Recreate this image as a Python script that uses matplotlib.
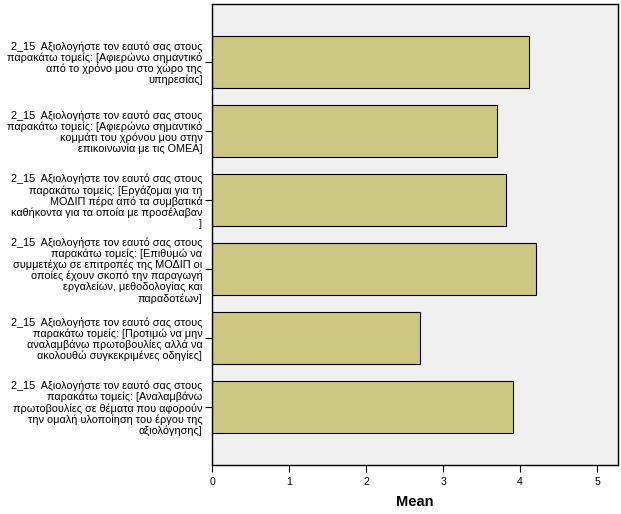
import matplotlib.pyplot as plt

# Κατηγορίες (ετικέτες άξονα y) όπως φαίνονται στο γράφημα
labels = [
    "2_15  Αξιολογήστε τον εαυτό σας στους\nπαρακάτω τομείς: [Αφιερώνω σημαντικό\nαπό το χρόνο μου στο χώρο της\nυπηρεσίας]",
    "2_15  Αξιολογήστε τον εαυτό σας στους\nπαρακάτω τομείς: [Αφιερώνω σημαντικό\nκομμάτι του χρόνου μου στην\nεπικοινωνία με τις ΟΜΕΑ]",
    "2_15  Αξιολογήστε τον εαυτό σας στους\nπαρακάτω τομείς: [Εργάζομαι για τη\nΜΟΔΙΠ πέρα από τα συμβατικά\nκαθήκοντα για τα οποία με προσέλαβαν\n]",
    "2_15  Αξιολογήστε τον εαυτό σας στους\nπαρακάτω τομείς: [Επιθυμώ να\nσυμμετέχω σε επιτροπές της ΜΟΔΙΠ οι\nοποίες έχουν σκοπό την παραγωγή\nεργαλείων, μεθοδολογίας και\nπαραδοτέων]",
    "2_15  Αξιολογήστε τον εαυτό σας στους\nπαρακάτω τομείς: [Προτιμώ να μην\nαναλαμβάνω πρωτοβουλίες αλλά να\nακολουθώ συγκεκριμένες οδηγίες]",
    "2_15  Αξιολογήστε τον εαυτό σας στους\nπαρακάτω τομείς: [Αναλαμβάνω\nπρωτοβουλίες σε θέματα που αφορούν\nτην ομαλή υλοποίηση του έργου της\nαξιολόγησης]",
]
means = [4.12, 3.70, 3.81, 4.21, 2.70, 3.91]
xticks = [0, 1, 2, 3, 4, 5]

plt.rcParams['font.family'] = ['Liberation Sans', 'DejaVu Sans']

fig = plt.figure(figsize=(6.21, 5.14), dpi=100)
ax = fig.add_axes([212 / 621, 49 / 514, 406 / 621, 461 / 514])
ax.set_facecolor('#f0f0f0')

pos = list(range(len(means)))
ax.barh(pos, means, height=0.75, color='#cdc784', edgecolor='black', linewidth=0.8)

ax.set_xlim(0, 5.27)
ax.set_ylim(len(means) - 1 + 0.84, -0.84)
ax.set_xticks(xticks)
ax.set_yticks(pos)
ax.set_yticklabels(labels, ha='right', multialignment='right', linespacing=1.08)
ax.tick_params(axis='y', length=5, labelsize=7.8, pad=2)
ax.tick_params(axis='x', length=5, labelsize=7.6)
for s in ax.spines.values():
    s.set_linewidth(1.0)

ax.set_xlabel("Mean", fontsize=10.5, fontweight='bold', labelpad=6)

fig.savefig("out.png", dpi=100)
